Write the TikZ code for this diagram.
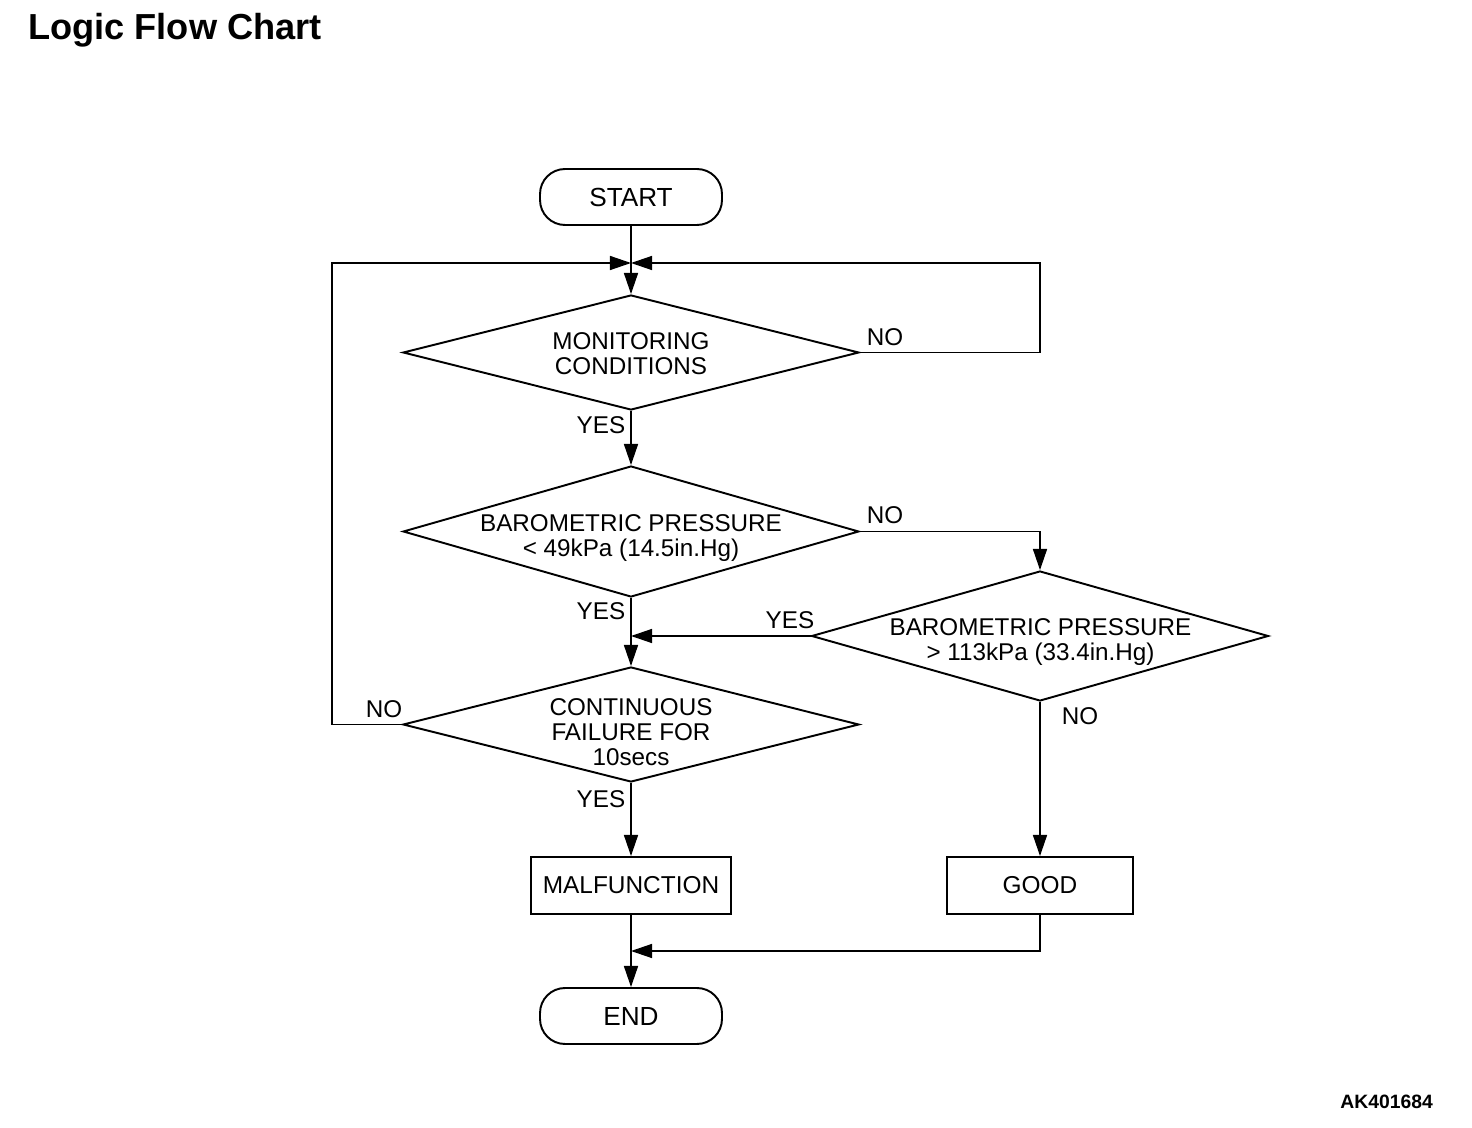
\documentclass[tikz,border=0pt]{standalone}
\usepackage{fontspec}
\setmainfont{Liberation Sans}
\usetikzlibrary{shapes.geometric,arrows.meta}

\tikzset{
  terminal/.style={draw, line width=1.1pt, rectangle, rounded corners=0.5cm,
    minimum width=3.64cm, minimum height=1.12cm, font=\fontsize{14.9}{16}\selectfont},
  decision/.style={draw, line width=1.1pt, diamond, inner sep=0pt, minimum width=9.12cm},
  dtext/.style={align=center, font=\fontsize{13.8}{14.2}\selectfont},
  process/.style={draw, line width=1.1pt, rectangle, minimum height=1.14cm,
    font=\fontsize{13.9}{16}\selectfont},
  lbl/.style={font=\fontsize{13.8}{16}\selectfont},
  arr/.style={line width=0.8pt, -{Triangle[length=12pt,width=8pt]}},
  line/.style={line width=0.8pt}
}

\begin{document}
\begin{tikzpicture}[x=0.02cm, y=-0.02cm]
  \useasboundingbox (0,0) rectangle (1472,1128);
  \node[anchor=base west, font=\bfseries\fontsize{20.6}{24}\selectfont] (title) at (22,40) {Logic Flow Chart};
  \node[anchor=base east, font=\bfseries\fontsize{11}{12}\selectfont] (code) at (1439,1108) {AK401684};
  % start, decisions and results
  \node[terminal] (start) at (631,197) {START};
  \node[decision, minimum height=2.3cm] (mon) at (631,352.5) {};
  \node[dtext] (mont) at (631,354) {MONITORING\\CONDITIONS};
  \node[decision, minimum height=2.62cm] (low) at (631,531.5) {};
  \node[dtext] (lowt) at (631,538) {BAROMETRIC PRESSURE\\< 49kPa (14.5in.Hg)};
  \node[decision, minimum height=2.6cm, minimum width=9.14cm] (high) at (1040,636) {};
  \node[dtext] (hight) at (1040.5,642) {BAROMETRIC PRESSURE\\> 113kPa (33.4in.Hg)};
  \node[decision, minimum height=2.3cm] (fail) at (631,724.5) {};
  \node[dtext] (failt) at (631,732) {CONTINUOUS\\FAILURE FOR\\10secs};
  \node[process, minimum width=4.0cm] (malf) at (631,885.5) {MALFUNCTION};
  \node[process, minimum width=3.72cm] (good) at (1040,885.5) {GOOD};
  \node[terminal] (end) at (631,1016) {END};
  % junctions
  \coordinate (j1) at (631,263);
  \coordinate (j3) at (631,951);
  % labels
  \node[lbl] (no1) at (885,337) {NO};
  \node[lbl] (yes1) at (601,425) {YES};
  \node[lbl] (no2) at (885,515) {NO};
  \node[lbl] (yes2) at (601,611) {YES};
  \node[lbl] (yes3) at (790,620) {YES};
  \node[lbl] (no3) at (1080,716) {NO};
  \node[lbl] (no4) at (384,709) {NO};
  \node[lbl] (yes4) at (601,799) {YES};
  % connectors
  \draw[arr] (start) -- (mon);
  \draw[arr] (mon.east) -- (mon.east -| high) |- (j1);
  \draw[arr] (mon) -- (low);
  \draw[arr] (low.east) -| (high.north);
  \draw[arr] (low) -- (fail);
  \draw[arr] (high.west) -- (high.west -| low.south);
  \draw[arr] (fail.west) -- ++(-70,0) |- (j1);
  \draw[arr] (fail) -- (malf);
  \draw[arr] (high) -- (good);
  \draw[arr] (good.south) |- (j3);
  \draw[arr] (malf) -- (end);
\end{tikzpicture}
\end{document}
